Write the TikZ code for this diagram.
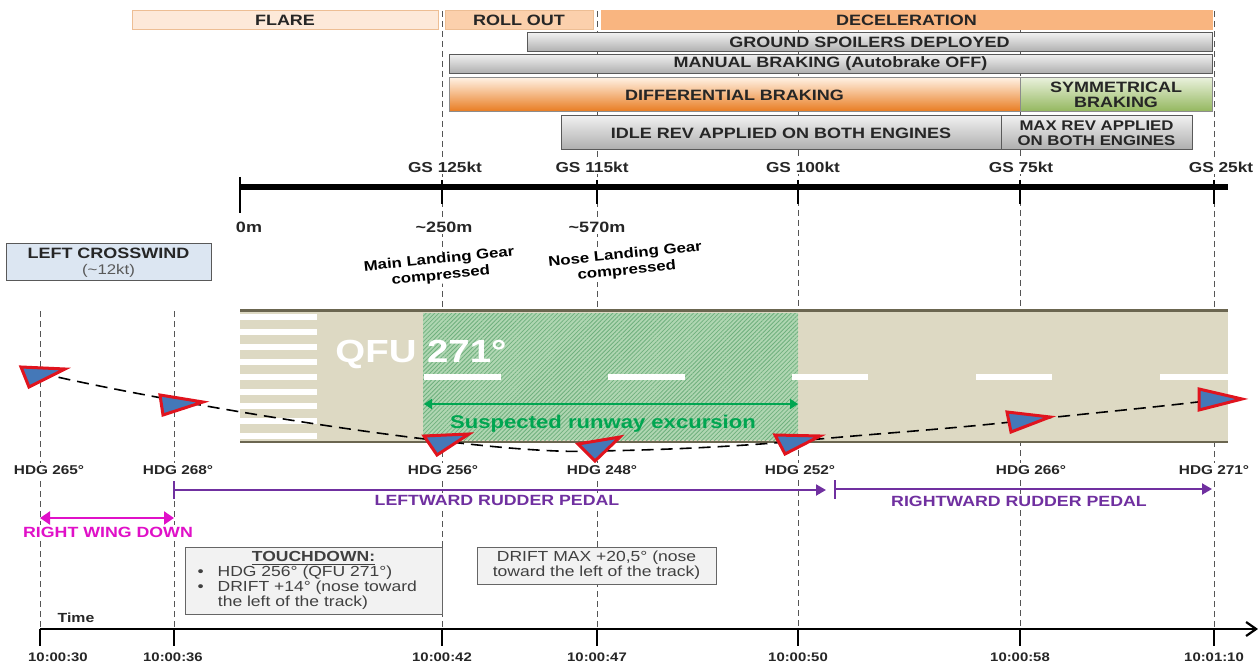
\documentclass[tikz,border=0pt]{standalone}
\usepackage{fontspec}
\setmainfont{Liberation Sans}[FakeStretch=1.2]
\usetikzlibrary{arrows.meta,calc,patterns.meta}
\definecolor{ink}{HTML}{262626}
\definecolor{guide}{HTML}{555555}
\definecolor{flarefill}{HTML}{FDE9D9}
\definecolor{rollfill}{HTML}{FBD0AC}
\definecolor{decelfill}{HTML}{F9B580}
\definecolor{phaseedge}{HTML}{EDBE94}
\definecolor{runway}{HTML}{DDD9C3}
\definecolor{runedge}{HTML}{6B6650}
\definecolor{hatchback}{HTML}{B0D6B2}
\definecolor{hatchline}{HTML}{6FB07E}
\definecolor{excursion}{HTML}{00A651}
\definecolor{rudder}{HTML}{7030A0}
\definecolor{wingdown}{HTML}{E010C8}
\definecolor{windfill}{HTML}{DCE6F2}
\definecolor{notefill}{HTML}{F2F2F2}
\definecolor{planeblue}{HTML}{4478B8}
\definecolor{planered}{HTML}{E0141E}
\tikzset{
 barfont/.style={font=\fontsize{7.5}{7.5}\selectfont\bfseries,text=ink,align=center,inner sep=0pt},
 phasebar/.style={barfont,draw=phaseedge,line width=0.5pt,minimum height=9.5pt},
 greybar/.style={barfont,draw=black!65,line width=0.5pt,top color=black!6,bottom color=black!32},
 orangebar/.style={barfont,draw=black!45,line width=0.5pt,top color=orange!12,bottom color={rgb,255:red,232;green,122;blue,30}},
 greenbar/.style={barfont,draw=black!45,line width=0.5pt,top color={rgb,255:red,232;green,240;blue,218},bottom color={rgb,255:red,146;green,182;blue,92}},
 guideline/.style={draw=guide,line width=0.4pt,densely dashed},
 gslabel/.style={font=\fontsize{7.2}{7.5}\selectfont\bfseries,text=ink,fill=white,inner sep=1pt},
 distlabel/.style={font=\fontsize{7.5}{8}\selectfont\bfseries,text=ink,fill=white,inner sep=1pt},
 gearlabel/.style={font=\fontsize{7}{8.2}\selectfont\bfseries,text=black,fill=white,align=center,inner sep=0.5pt,rotate=6},
 hdglabel/.style={font=\fontsize{6.4}{7}\selectfont\bfseries,text=ink,fill=white,inner sep=1pt},
 timelabel/.style={font=\fontsize{6.2}{7}\selectfont\bfseries,text=ink,inner sep=1pt},
 rudderlabel/.style={font=\fontsize{7.4}{8}\selectfont\bfseries,text=rudder,fill=white,inner sep=1pt},
 notebox/.style={draw=black!60,fill=notefill,line width=0.5pt,font=\fontsize{7.3}{7.4}\selectfont,text=black!75,inner sep=0pt},
 distaxis/.style={draw=black,line width=2.6pt},
 disttick/.style={draw=black,line width=1.4pt},
 timeaxis/.style={draw=black,line width=1.1pt,-{Straight Barb[length=5pt,width=7pt]}},
 timetick/.style={draw=black,line width=1.4pt},
 rudderarrow/.style={draw=rudder,line width=1pt,-{Triangle[length=5pt,width=5.5pt]}},
 ruddertick/.style={draw=rudder,line width=1.2pt},
 planeshape/.style={draw=planered,fill=planeblue,line width=1.5pt,line join=miter},
 whitebar/.style={fill=white,draw=none}}
\begin{document}
\begin{tikzpicture}[x=0.5pt,y=-0.5pt]
\useasboundingbox (0,0) rectangle (1258,663);
% time stamps
\coordinate (t30) at (40,629);
\coordinate (t36) at (174,629);
\coordinate (t42) at (442,629);
\coordinate (t47) at (597,629);
\coordinate (t50) at (798,629);
\coordinate (t58) at (1020,629);
\coordinate (t70) at (1214,629);
\coordinate (tend) at (1258,629);
% guide lines
\draw[guideline] (40,311)--(t30);
\draw[guideline] (174,311)--(t36);
\draw[guideline] (442,11)--(t42);
\draw[guideline] (597,11)--(t47);
\draw[guideline] (798,30)--(t50);
\draw[guideline] (1020,30)--(t58);
\draw[guideline] (1214,11)--(t70);
% phases and systems
\node[phasebar,fill=flarefill,minimum width=153pt] (flare) at (285,20.5) {FLARE};
\node[phasebar,fill=rollfill,minimum width=74pt] (rollout) at (519,20.5) {ROLL OUT};
\node[phasebar,fill=decelfill,draw=decelfill,minimum width=305.5pt] (decel) at (906.5,20.5) {DECELERATION};
\node[greybar,minimum width=342.5pt,minimum height=9.5pt] (spoilers) at (869.5,42.5) {GROUND SPOILERS DEPLOYED};
\node[greybar,minimum width=381.5pt,minimum height=9.5pt] (manual) at (830.5,64) {MANUAL BRAKING (Autobrake OFF)};
\node[orangebar,minimum width=285.5pt,minimum height=17pt] (diffbrake) at (734.5,95) {DIFFERENTIAL BRAKING};
\node[greenbar,minimum width=96pt,minimum height=17pt] (symbrake) at (1116,95) {SYMMETRICAL\\BRAKING};
\node[greybar,minimum width=220pt,minimum height=17pt] (idlerev) at (781,133) {IDLE REV APPLIED ON BOTH ENGINES};
\node[greybar,minimum width=95.5pt,minimum height=17pt,font=\fontsize{7}{7.5}\selectfont\bfseries] (maxrev) at (1096.5,133) {MAX REV APPLIED\\ON BOTH ENGINES};
% distance axis
\coordinate (d0) at (240,187);
\coordinate (d250) at (442,187);
\coordinate (d570) at (597,187);
\coordinate (d100) at (798,187);
\coordinate (d75) at (1020,187);
\coordinate (d25) at (1214,187);
\coordinate (dend) at (1228,187);
\node[gslabel] (gs125) at (445,167) {GS 125kt};
\node[gslabel] (gs115) at (592,167) {GS 115kt};
\node[gslabel] (gs100) at (803,167) {GS 100kt};
\node[gslabel] (gs75) at (1021,167) {GS 75kt};
\node[gslabel] (gs25) at (1221,167) {GS 25kt};
\draw[distaxis] (d0)--(dend);
\draw[disttick] ($(d0)+(0,-10)$)--($(d0)+(0,26)$);
\draw[disttick] ($(d250)+(0,-7)$)--($(d250)+(0,17)$);
\draw[disttick] ($(d570)+(0,-7)$)--($(d570)+(0,17)$);
\draw[disttick] ($(d100)+(0,-7)$)--($(d100)+(0,17)$);
\draw[disttick] ($(d75)+(0,-7)$)--($(d75)+(0,17)$);
\draw[disttick] ($(d25)+(0,-7)$)--($(d25)+(0,17)$);
\node[distlabel] (m0) at (249,227) {0m};
\node[distlabel] (m250) at (444,227) {\textasciitilde250m};
\node[distlabel] (m570) at (597,227) {\textasciitilde570m};
\node[gearlabel] (maingear) at (440,268) {Main Landing Gear\\compressed};
\node[gearlabel] (nosegear) at (626,263) {Nose Landing Gear\\compressed};
\node[draw=black!65,fill=windfill,line width=0.5pt,minimum width=102.5pt,minimum height=18.5pt,inner sep=0pt,align=center,font=\fontsize{7.5}{7.8}\selectfont,text=ink] (wind) at (108.5,262.5) {\textbf{LEFT CROSSWIND}\\{\fontsize{7}{7.5}\selectfont\color{black!65}(\textasciitilde12kt)}};
% runway
\fill[runway] (240,310) rectangle (1228,442);
\fill[hatchback] (423,313) rectangle (798,440);
\fill[pattern={Lines[angle=45,distance=1.5pt,line width=0.4pt]},pattern color=hatchline] (423,313) rectangle (798,440);
\fill[whitebar] (240,314) rectangle (317,320);
\fill[whitebar] (240,329) rectangle (317,335);
\fill[whitebar] (240,344) rectangle (317,350);
\fill[whitebar] (240,359) rectangle (317,365);
\fill[whitebar] (240,374) rectangle (317,380);
\fill[whitebar] (240,389) rectangle (317,395);
\fill[whitebar] (240,403) rectangle (317,409);
\fill[whitebar] (240,418) rectangle (317,424);
\fill[whitebar] (240,433) rectangle (317,439);
\fill[whitebar] (424,374) rectangle (501,380);
\fill[whitebar] (608,374) rectangle (685,380);
\fill[whitebar] (792,374) rectangle (868,380);
\fill[whitebar] (976,374) rectangle (1052,380);
\fill[whitebar] (1160,374) rectangle (1228,380);
\draw[runedge,line width=1pt] (240,310.5)--(1228,310.5);
\draw[runedge,line width=1pt] (240,441.5)--(1228,441.5);
\node[font=\fontsize{16}{18}\selectfont\bfseries,text=white,inner sep=0pt] (qfu) at (421,354) {QFU 271°};
\coordinate (exl) at (424,404);
\coordinate (exr) at (798,404);
\draw[draw=excursion,line width=1pt,{Triangle[length=4pt,width=5pt]}-{Triangle[length=4pt,width=5pt]}] (exl)--(exr);
\node[font=\fontsize{9.2}{10}\selectfont\bfseries,text=excursion,inner sep=0pt] (suspect) at (603,424) {Suspected runway excursion};
% track of the aircraft
\draw[black,line width=0.8pt,dash pattern=on 6pt off 3.5pt] (40,373) .. controls (110,390) and (300,425) .. (442,441) .. controls (500,448) and (560,453) .. (597,451) .. controls (660,450) and (730,447) .. (798,441) .. controls (870,434) and (950,429) .. (1020,421) .. controls (1090,413) and (1150,408) .. (1214,400);
\draw[planeshape] (21,367)--(65,369)--(29,387)--cycle;
\draw[planeshape] (160,395)--(203,402)--(163,415)--cycle;
\draw[planeshape] (424,436)--(469,434)--(437,455)--cycle;
\draw[planeshape] (578,444)--(620,437)--(595,461)--cycle;
\draw[planeshape] (775,435)--(820,436)--(785,454)--cycle;
\draw[planeshape] (1007,412)--(1050,417)--(1011,432)--cycle;
\draw[planeshape] (1199,389)--(1242,399)--(1199,410)--cycle;
% headings
\node[hdglabel] (hdga) at (49,470) {HDG 265°};
\node[hdglabel] (hdgb) at (178,470) {HDG 268°};
\node[hdglabel] (hdgc) at (443,470) {HDG 256°};
\node[hdglabel] (hdgd) at (602,470) {HDG 248°};
\node[hdglabel] (hdge) at (800,470) {HDG 252°};
\node[hdglabel] (hdgf) at (1031,470) {HDG 266°};
\node[hdglabel] (hdgg) at (1214,470) {HDG 271°};
% rudder and wing
\coordinate (la) at (174,490);
\coordinate (lb) at (826,490);
\coordinate (ra) at (835,489);
\coordinate (rb) at (1212,489);
\draw[rudderarrow] (la)--(lb);
\draw[rudderarrow] (ra)--(rb);
\draw[ruddertick] ($(la)+(0,-9)$)--($(la)+(0,9)$);
\draw[ruddertick] ($(ra)+(0,-9)$)--($(ra)+(0,10)$);
\node[rudderlabel] (leftpedal) at (497,500.5) {LEFTWARD RUDDER PEDAL};
\node[rudderlabel] (rightpedal) at (1019,501) {RIGHTWARD RUDDER PEDAL};
\coordinate (wa) at (40,518);
\coordinate (wb) at (174,518);
\draw[draw=wingdown,line width=1.1pt,{Triangle[length=5pt,width=6.5pt]}-{Triangle[length=5pt,width=6.5pt]}] (wa)--(wb);
\node[font=\fontsize{7.4}{8}\selectfont\bfseries,text=wingdown,fill=white,inner sep=1pt] (wing) at (108,532) {RIGHT WING DOWN};
% notes
\node[notebox,minimum width=128.5pt,minimum height=33.5pt,text width=124pt,align=left] (touchdown) at (313.5,580.5) {{\centering\textbf{\underline{TOUCHDOWN:}}\par}\hspace*{4pt}\textbullet\hspace{7pt}HDG 256° (QFU 271°)\\\hspace*{4pt}\textbullet\hspace{7pt}DRIFT +14° (nose toward\\\hspace*{14.2pt}the left of the track)};
\node[notebox,minimum width=119.5pt,minimum height=18.5pt,align=center] (driftmax) at (596.5,565.5) {DRIFT MAX +20,5° (nose\\toward the left of the track)};
% time axis
\node[font=\fontsize{6.6}{7}\selectfont\bfseries,text=ink,inner sep=0pt] (timename) at (76,618) {Time};
\draw[timeaxis] (t30)--(tend);
\draw[timetick] (t30)--($(t30)+(0,17)$);
\draw[timetick] (t36)--($(t36)+(0,17)$);
\draw[timetick] (t42)--($(t42)+(0,17)$);
\draw[timetick] (t47)--($(t47)+(0,17)$);
\draw[timetick] (t50)--($(t50)+(0,17)$);
\draw[timetick] (t58)--($(t58)+(0,17)$);
\draw[timetick] (t70)--($(t70)+(0,17)$);
\node[timelabel] (la30) at (58,657) {10:00:30};
\node[timelabel] (la36) at (173,657) {10:00:36};
\node[timelabel] (la42) at (442,657) {10:00:42};
\node[timelabel] (la47) at (597,657) {10:00:47};
\node[timelabel] (la50) at (798,657) {10:00:50};
\node[timelabel] (la58) at (1020,657) {10:00:58};
\node[timelabel] (la70) at (1214,657) {10:01:10};
\end{tikzpicture}
\end{document}
